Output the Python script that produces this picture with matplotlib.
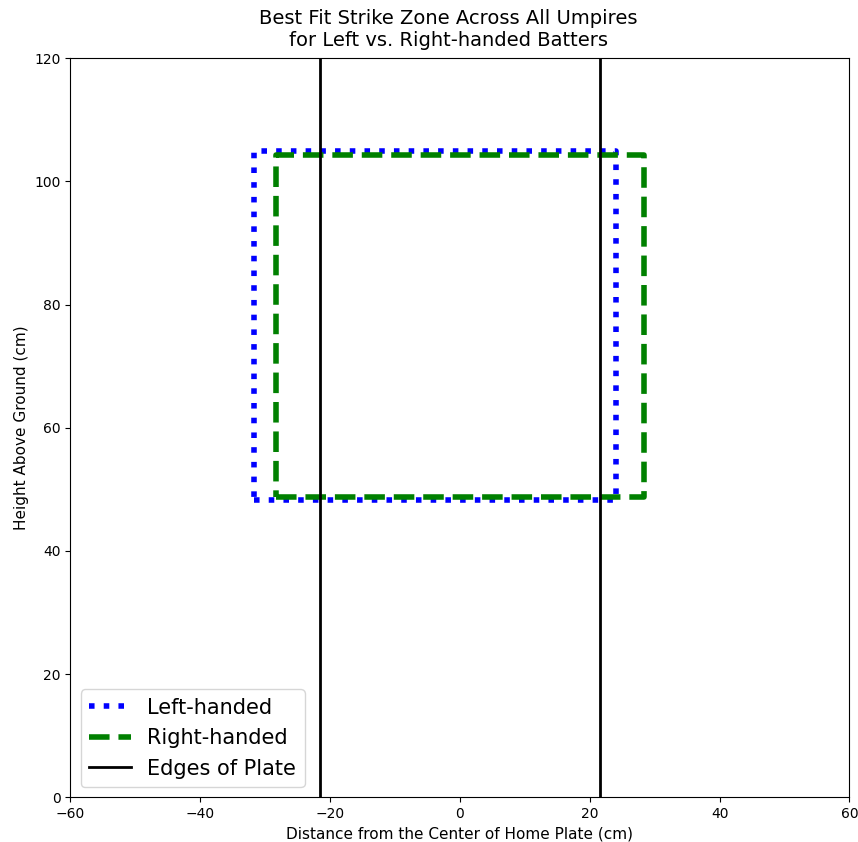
import matplotlib.pyplot as plt

# strike zone bounds (cm): left, right, bottom, top
left_zone = [-31.7, 24.0, 48.2, 104.9]
right_zone = [-28.4, 28.4, 48.7, 104.2]
plate_edges = [-21.6, 21.6]


def zone_path(z):
  x0, x1, y0, y1 = z
  return [x0, x1, x1, x0, x0], [y0, y0, y1, y1, y0]


fig, ax = plt.subplots(figsize=(8.58, 8.42), dpi=100)
fig.subplots_adjust(left=0.082, right=0.99, top=0.931, bottom=0.053)

xs, ys = zone_path(left_zone)
ax.plot(xs, ys, color='blue', linestyle=':', linewidth=4, label='Left-handed')
xs, ys = zone_path(right_zone)
ax.plot(xs, ys, color='green', linestyle='--', linewidth=4, label='Right-handed')
ax.axvline(plate_edges[0], color='black', linewidth=2, label='Edges of Plate')
ax.axvline(plate_edges[1], color='black', linewidth=2)

ax.set_xlim(-60, 60)
ax.set_ylim(0, 120)
ax.set_title('Best Fit Strike Zone Across All Umpires\nfor Left vs. Right-handed Batters',
             fontsize=14, x=0.485, pad=9)
ax.set_xlabel('Distance from the Center of Home Plate (cm)', fontsize=11)
ax.set_ylabel('Height Above Ground (cm)', fontsize=11)
ax.legend(loc='lower left', fontsize=15)

plt.savefig('out.png')
